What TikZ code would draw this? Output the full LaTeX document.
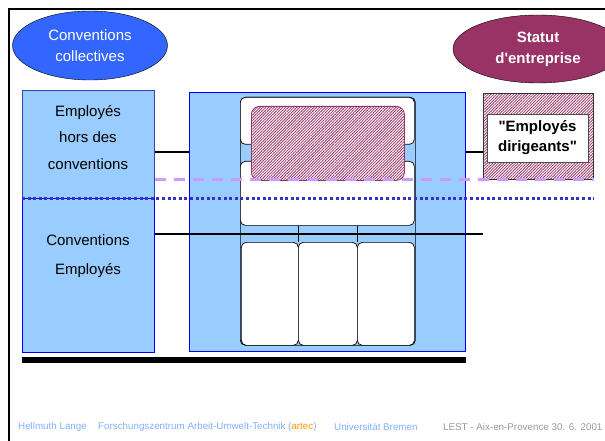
\documentclass[tikz,border=0pt]{standalone}
\usepackage{fontspec}
\setmainfont{Liberation Sans}
\usetikzlibrary{shapes.geometric,patterns.meta}
\definecolor{paleblue}{HTML}{99CCFF}
\definecolor{royal}{HTML}{3366FF}
\definecolor{wine}{HTML}{993366}
\definecolor{lilac}{HTML}{CC99FF}
\definecolor{inkblue}{HTML}{3333CC}
\definecolor{footblue}{HTML}{80B0FF}
\definecolor{artec}{HTML}{FF9900}
\tikzset{
  panel/.style={draw=blue, line width=1pt, fill=paleblue, anchor=north west, inner sep=0pt},
  cell/.style={draw=black, fill=white, rounded corners=5pt, anchor=north west, inner sep=0pt, line width=0.7pt},
  hatched/.style={preaction={fill=white}, pattern={Lines[angle=45,distance=2pt,line width=0.8pt]}, pattern color=wine},
  boxtext/.style={font=\fontsize{15}{26.5}\selectfont, align=center},
  foot/.style={font=\fontsize{9.8}{10}\selectfont, anchor=west, inner sep=0pt},
}
\begin{document}
\begin{tikzpicture}[x=1pt, y=-1pt]
    \useasboundingbox (0,0) rectangle (605,441);
    \draw[line width=1.5pt] (9,441) -- (9,9) -- (605,9);

    % Ellipses
    \node[ellipse, draw, fill=royal, text=white, minimum width=155pt, minimum height=69pt, boxtext, font=\fontsize{15}{21}\selectfont] (coll) at (90,45.5) {Conventions\\collectives};
    \node[ellipse, draw, fill=wine, text=white, minimum width=170pt, minimum height=68pt, boxtext, font=\bfseries\fontsize{15}{21}\selectfont] (statut) at (538,49) {Statut\\d\textquotesingle entreprise};

    % Employees
    \node[panel, draw=black!45!paleblue!60!blue, minimum width=132pt, minimum height=108pt] (hors) at (22,90) {};
    \node[panel, minimum width=132pt, minimum height=154pt] (conv) at (22,198) {};
    \node[boxtext] (horstxt) at (88,137.5) {Employés\\hors des\\conventions};
    \node[boxtext, font=\fontsize{15}{29}\selectfont] (convtxt) at (88,256.5) {Conventions\\Employés};

    % Firm
    \draw[line width=2pt] (hors.east |- 0,152) -- (190,152);
    \node[panel, minimum width=276pt, minimum height=259pt] (org) at (189,92) {};
    \node[cell, fill=none, minimum width=175pt, minimum height=248pt] (frame) at (240,97) {};
    \node[cell, minimum width=174pt, minimum height=47pt] (top) at (240,97) {};
    \node[cell, minimum width=174pt, minimum height=64pt] (mid) at (240,161) {};
    \foreach \x/\w [count=\i] in {241/57, 298/59, 357/57}
        \node[cell, minimum width=\w pt, minimum height=103pt] (col\i) at (\x,242) {};
    \draw[line width=0.7pt] (col2.north west) -- (col2.north west |- mid.south);
    \draw[line width=0.7pt] (col3.north west) -- (col3.north west |- mid.south);
    \node[hatched, draw=wine, line width=0.8pt, rounded corners=8pt, anchor=north west, minimum width=153pt, minimum height=74pt] (lead) at (251,106) {};

    % Managers
    \node[hatched, draw=black!80, line width=0.8pt, anchor=north west, minimum width=110pt, minimum height=86pt] (dir) at (483,93) {};
    \node[draw=black!70, fill=white, line width=0.8pt, minimum width=101pt, minimum height=48pt, boxtext, font=\bfseries\fontsize{15}{20}\selectfont] (dirtxt) at (537.5,138) {\textquotedbl Employés\\dirigeants\textquotedbl};
    \draw[line width=2pt] (org.east |- 0,152) -- (dir.west |- 0,152);

    % Boundaries
    \draw[line width=2.5pt] (conv.east |- 0,234) -- (dir.west |- 0,234);
    \draw[lilac, line width=3pt, dash pattern=on 11pt off 8pt] (hors.east |- 0,179) -- (dir.east |- 0,179);
    \draw[inkblue, line width=3pt, dash pattern=on 3pt off 2.6pt] (hors.west |- 0,198) -- (dir.east |- 0,198);
    \draw[line width=6pt] (conv.west |- 0,360) -- (org.east |- 0,360);

    % Footer
    \node[foot, text=footblue] (author) at (18,427) {Hellmuth Lange};
    \node[foot, text=footblue] (inst) at (98,427) {Forschungszentrum Arbeit-Umwelt-Technik ({\color{artec}artec})};
    \node[foot, text=footblue] (uni) at (334,427) {Universität Bremen};
    \node[foot, text=black!40] (place) at (443,427) {LEST - Aix-en-Provence 30. 6. 2001};
\end{tikzpicture}
\end{document}
